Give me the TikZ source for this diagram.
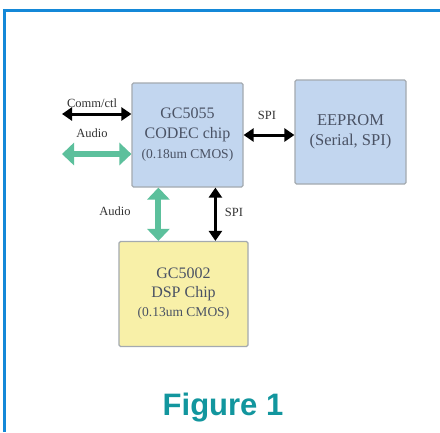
\documentclass[tikz,border=0pt]{standalone}
\usepackage{fontspec}
\setmainfont{Liberation Serif}
\newfontfamily\figfont{Liberation Sans}
\usetikzlibrary{arrows.meta}
\definecolor{framecol}{HTML}{1488D8}
\definecolor{boxblue}{HTML}{C2D6EF}
\definecolor{boxyellow}{HTML}{F8F0A8}
\definecolor{boxedge}{HTML}{A4AAB0}
\definecolor{boxtext}{HTML}{4A5264}
\definecolor{labtext}{HTML}{333333}
\definecolor{audiogreen}{HTML}{5CC09C}
\definecolor{figteal}{HTML}{12969E}
\tikzset{
  chipbox/.style={draw=boxedge, line width=1.2pt, rounded corners=1.5pt, align=center, text=boxtext, inner sep=0pt, font=\fontsize{16}{20}\selectfont},
  lab/.style={text=labtext, font=\fontsize{12.5}{14}\selectfont, inner sep=0pt},
  blackarrow/.style={draw=black, line width=3pt, {Triangle[width=13pt,length=10pt]}-{Triangle[width=13pt,length=10pt]}},
  greenarrow/.style={draw=audiogreen, line width=6pt, {Triangle[width=22pt,length=12pt]}-{Triangle[width=22pt,length=12pt]}}
}
\newcommand{\smallline}{\fontsize{13.5}{20}\selectfont}
\begin{document}
\begin{tikzpicture}[x=1pt,y=-1pt]
\useasboundingbox (0,0) rectangle (440,432);
\fill[white] (0,0) rectangle (440,432);
% frame
\draw[framecol, line width=2.7pt] (4.5,432) -- (4.5,10.5) -- (440,10.5);
% boxes
\node[chipbox, fill=boxblue, minimum width=111pt, minimum height=104pt] (codec) at (187.5,135)
  {GC5055\\ CODEC chip\\ {\smallline (0.18um CMOS)}};
\node[chipbox, fill=boxblue, minimum width=111pt, minimum height=104pt, font=\fontsize{16.5}{20}\selectfont] (eeprom) at (350.5,132)
  {EEPROM\\ (Serial, SPI)};
\node[chipbox, fill=boxyellow, minimum width=129pt, minimum height=105pt, font=\fontsize{16}{19}\selectfont] (dsp) at (183.5,294)
  {GC5002\\ DSP Chip\\ {\smallline (0.13um CMOS)}};
% free ends
\coordinate (commend) at (62,114);
\coordinate (audioend) at (62,154);
% connectors
\draw[blackarrow] (commend) -- (commend -| codec.west);
\draw[greenarrow] (audioend) -- (audioend -| codec.west);
\draw[blackarrow] (codec.east) -- (codec.east -| eeprom.west);
\draw[greenarrow] ([xshift=27pt]codec.south west) -- ([xshift=27pt]codec.south west |- dsp.north);
\draw[blackarrow] ([xshift=84pt]codec.south west) -- ([xshift=84pt]codec.south west |- dsp.north);
% labels
\node[lab] (lcomm) at (92,103) {Comm/ctl};
\node[lab] (laudio1) at (92,133) {Audio};
\node[lab] (lspi1) at (267,115) {SPI};
\node[lab] (laudio2) at (115,211) {Audio};
\node[lab] (lspi2) at (234,212) {SPI};
% caption
\node[text=figteal, font=\figfont\bfseries\fontsize{31}{36}\selectfont] (fig) at (223,408) {Figure 1};
\end{tikzpicture}
\end{document}
